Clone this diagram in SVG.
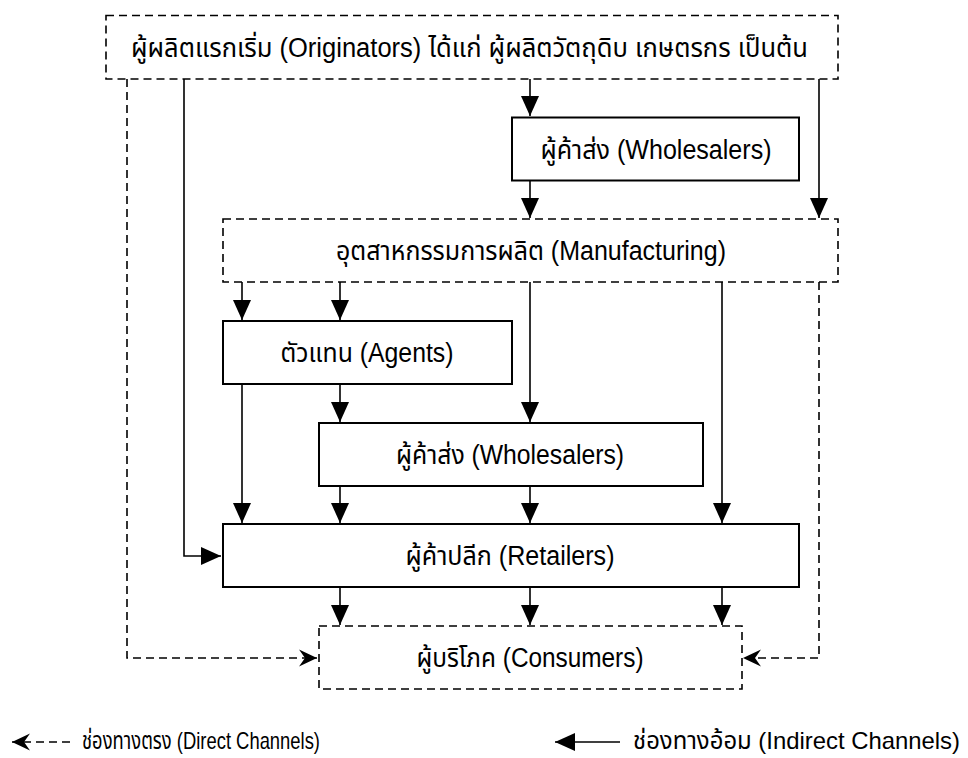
<svg xmlns="http://www.w3.org/2000/svg" width="968" height="758" viewBox="0 0 968 758">
<style>
  .box { fill: #ffffff; stroke: #000000; stroke-width: 2; }
  .dbox { fill: #ffffff; stroke: #000000; stroke-width: 1.6; stroke-dasharray: 8 5; }
  .ln { fill: none; stroke: #000000; stroke-width: 1.6; }
  .dln { fill: none; stroke: #000000; stroke-width: 1.6; stroke-dasharray: 8 5; }
  .t { font-family: "Liberation Sans", "Noto Sans Thai", "Noto Sans", sans-serif; font-size: 27px; font-weight: normal; fill: #000000; }
  .lg { font-size: 24px; }
</style>
<defs>
  <marker id="tri" markerUnits="userSpaceOnUse" markerWidth="22" markerHeight="22" refX="20" refY="10" orient="auto">
    <path d="M0,1 L20,10 L0,19 z" fill="#000000"/>
  </marker>
  <marker id="barb" markerUnits="userSpaceOnUse" markerWidth="22" markerHeight="22" refX="18" refY="9" orient="auto">
    <path d="M0,0.5 L18,9 L0,17.5 L6,9 z" fill="#000000"/>
  </marker>
</defs>
<rect width="968" height="758" fill="#ffffff"/>

<g id="connectors">
  <path class="dln" d="M127,79 V658 H317" marker-end="url(#barb)"/>
  <path class="ln" d="M184,79 V556 H221" marker-end="url(#tri)"/>
  <path class="ln" d="M530,79 V116" marker-end="url(#tri)"/>
  <path class="ln" d="M819,79 V218" marker-end="url(#tri)"/>
  <path class="ln" d="M530,181 V218" marker-end="url(#tri)"/>
  <path class="ln" d="M242,282 V320" marker-end="url(#tri)"/>
  <path class="ln" d="M340,282 V320" marker-end="url(#tri)"/>
  <path class="ln" d="M530,282 V422" marker-end="url(#tri)"/>
  <path class="ln" d="M722,282 V523" marker-end="url(#tri)"/>
  <path class="dln" d="M819,282 V658 H743" marker-end="url(#barb)"/>
  <path class="ln" d="M242,384 V523" marker-end="url(#tri)"/>
  <path class="ln" d="M340,384 V422" marker-end="url(#tri)"/>
  <path class="ln" d="M340,486 V523" marker-end="url(#tri)"/>
  <path class="ln" d="M530,486 V523" marker-end="url(#tri)"/>
  <path class="ln" d="M340,587 V625" marker-end="url(#tri)"/>
  <path class="ln" d="M530,587 V625" marker-end="url(#tri)"/>
  <path class="ln" d="M722,587 V625" marker-end="url(#tri)"/>
</g>

<g id="originators">
  <rect class="dbox" x="106" y="15.5" width="732" height="63.5"/>
  <text class="t" x="469.5" y="57" text-anchor="middle" textLength="677" lengthAdjust="spacingAndGlyphs">ผู้ผลิตแรกเริ่ม (Originators) ได้แก่ ผู้ผลิตวัตถุดิบ เกษตรกร เป็นต้น</text>
</g>
<g id="wholesalers1">
  <rect class="box" x="512" y="117.5" width="287" height="63"/>
  <text class="t" x="656" y="159" text-anchor="middle" textLength="231" lengthAdjust="spacingAndGlyphs">ผู้ค้าส่ง (Wholesalers)</text>
</g>
<g id="manufacturing">
  <rect class="dbox" x="223" y="219" width="615" height="63"/>
  <text class="t" x="531" y="260" text-anchor="middle" textLength="390" lengthAdjust="spacingAndGlyphs">อุตสาหกรรมการผลิต (Manufacturing)</text>
</g>
<g id="agents">
  <rect class="box" x="223" y="321" width="289" height="63"/>
  <text class="t" x="367" y="362" text-anchor="middle" textLength="173" lengthAdjust="spacingAndGlyphs">ตัวแทน (Agents)</text>
</g>
<g id="wholesalers2">
  <rect class="box" x="319" y="423" width="384" height="63"/>
  <text class="t" x="510" y="464" text-anchor="middle" textLength="228" lengthAdjust="spacingAndGlyphs">ผู้ค้าส่ง (Wholesalers)</text>
</g>
<g id="retailers">
  <rect class="box" x="223" y="524" width="576" height="63"/>
  <text class="t" x="510" y="565" text-anchor="middle" textLength="209" lengthAdjust="spacingAndGlyphs">ผู้ค้าปลีก (Retailers)</text>
</g>
<g id="consumers">
  <rect class="dbox" x="319" y="626" width="423" height="63"/>
  <text class="t" x="530" y="667" text-anchor="middle" textLength="227" lengthAdjust="spacingAndGlyphs">ผู้บริโภค (Consumers)</text>
</g>

<g id="legend">
  <path class="dln" d="M70,742 H12" marker-end="url(#barb)"/>
  <text class="t lg" x="82" y="749" textLength="238" lengthAdjust="spacingAndGlyphs">ช่องทางตรง (Direct Channels)</text>
  <path class="ln" d="M620,742 H555" marker-end="url(#tri)"/>
  <text class="t lg" x="633" y="749" textLength="327" lengthAdjust="spacingAndGlyphs">ช่องทางอ้อม (Indirect Channels)</text>
</g>
</svg>
